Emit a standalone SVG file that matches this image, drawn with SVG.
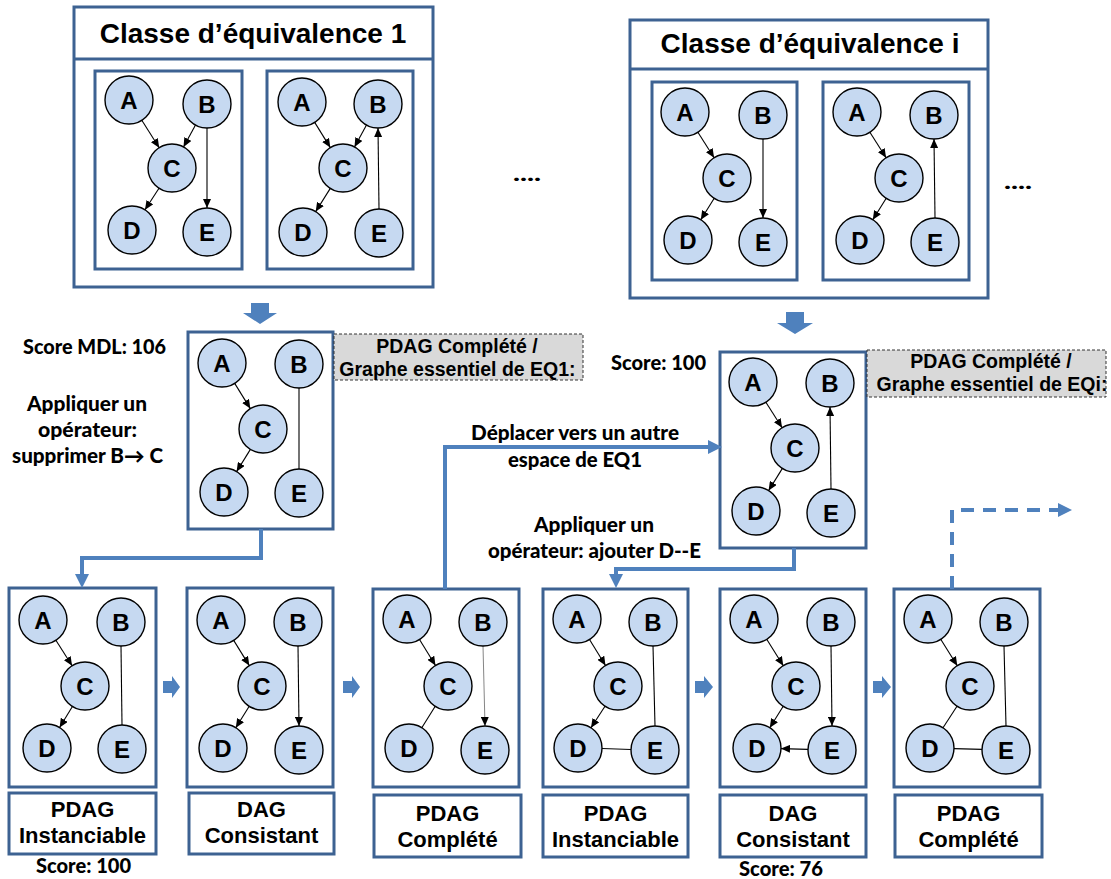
<svg xmlns="http://www.w3.org/2000/svg" width="1111" height="879" viewBox="0 0 1111 879">
<style>
.box{fill:#fff;stroke:#3D6292;stroke-width:3}
.gray{fill:#D9D9D9;stroke:#333;stroke-width:1;stroke-dasharray:3,2}
.n circle{fill:#C6D9F1;stroke:#000;stroke-width:1.4}
.n text{font-family:"Liberation Sans",Arial,sans-serif;font-weight:700;font-size:24px;text-anchor:middle;fill:#000}
.e{stroke:#000;stroke-width:1.1;fill:none}
.ea{stroke:#000;stroke-width:1.1;fill:none;marker-end:url(#ah)}
.eg{stroke:#777;stroke-width:0.9;fill:none;marker-end:url(#ah)}
.title{font-family:"Liberation Sans",Arial,sans-serif;font-weight:bold;font-size:28px;text-anchor:middle}
.lab{font-family:"Liberation Sans",Arial,sans-serif;font-weight:bold;font-size:22px;text-anchor:middle}
.gt{font-family:"Liberation Sans",Arial,sans-serif;font-weight:bold;font-size:19.5px;text-anchor:middle}
.cal{font-family:Lato,"Open Sans",sans-serif;font-weight:900;font-size:20px}
.conn{stroke:#4F81BD;stroke-width:4;fill:none;marker-end:url(#bh)}
.blk{fill:#4F81BD}
</style>
<defs>
<marker id="ah" markerUnits="userSpaceOnUse" markerWidth="10" markerHeight="8" refX="9" refY="4" orient="auto">
<path d="M0,0 L9,4 L0,8 z" fill="#000"/>
</marker>
<marker id="bh" markerUnits="userSpaceOnUse" markerWidth="15" markerHeight="14" refX="0" refY="7" orient="auto">
<path d="M0,0 L14,7 L0,14 z" fill="#4F81BD"/>
</marker>
</defs>

<g id="classe1">
<rect class="box" x="74" y="7" width="359" height="280"/>
<line x1="74" y1="59" x2="433" y2="59" stroke="#3D6292" stroke-width="3"/>
<text class="title" x="253" y="43">Classe d’équivalence 1</text>
<rect class="box" x="95" y="71" width="147" height="198"/>
<rect class="box" x="267" y="71" width="146" height="198"/>
</g>

<g id="classei">
<rect class="box" x="630" y="20" width="358" height="278"/>
<line x1="630" y1="69" x2="988" y2="69" stroke="#3D6292" stroke-width="3"/>
<text class="title" x="810" y="53">Classe d’équivalence i</text>
<rect class="box" x="652" y="82" width="145" height="198"/>
<rect class="box" x="823" y="82" width="146" height="198"/>
</g>

<g id="mid1-box"><rect class="box" x="188" y="332" width="145" height="197"/></g>
<g id="mid2-box"><rect class="box" x="720" y="352" width="146" height="196"/></g>

<g id="bottom-boxes">
<rect class="box" x="9" y="588" width="147" height="199"/>
<rect class="box" x="187" y="588" width="146" height="199"/>
<rect class="box" x="373" y="589" width="146" height="198"/>
<rect class="box" x="543" y="589" width="145" height="198"/>
<rect class="box" x="720" y="589" width="146" height="198"/>
<rect class="box" x="894" y="589" width="146" height="198"/>
</g>

<g id="labels">
<g id="lab1"><rect class="box" x="9" y="793" width="147" height="61"/><text class="lab" x="82.5" y="817">PDAG</text><text class="lab" x="82.5" y="843">Instanciable</text></g>
<g id="lab2"><rect class="box" x="189" y="793" width="145" height="61"/><text class="lab" x="261.5" y="817">DAG</text><text class="lab" x="261.5" y="843">Consistant</text></g>
<g id="lab3"><rect class="box" x="374" y="795" width="147" height="62"/><text class="lab" x="447.5" y="821">PDAG</text><text class="lab" x="447.5" y="847">Complété</text></g>
<g id="lab4"><rect class="box" x="543" y="795" width="145" height="62"/><text class="lab" x="615.5" y="821">PDAG</text><text class="lab" x="615.5" y="847">Instanciable</text></g>
<g id="lab5"><rect class="box" x="720" y="795" width="146" height="62"/><text class="lab" x="793" y="821">DAG</text><text class="lab" x="793" y="847">Consistant</text></g>
<g id="lab6"><rect class="box" x="895" y="795" width="147" height="62"/><text class="lab" x="968.5" y="821">PDAG</text><text class="lab" x="968.5" y="847">Complété</text></g>
</g>

<g id="gray-notes">
<g id="note-eq1"><rect class="gray" x="334" y="334" width="249" height="46"/><text class="gt" x="457" y="353">PDAG Complété /</text><text class="gt" x="457.5" y="376">Graphe essentiel de EQ1:</text></g>
<g id="note-eqi"><rect class="gray" x="867" y="350" width="239" height="47"/><text class="gt" x="991" y="368">PDAG Complété /</text><text class="gt" x="992" y="391">Graphe essentiel de EQi:</text></g>
</g>

<g id="texts">
<text class="cal" x="23" y="354" textLength="143" lengthAdjust="spacingAndGlyphs">Score MDL: 106</text>
<text class="cal" x="27" y="411" textLength="120" lengthAdjust="spacingAndGlyphs">Appliquer un</text>
<text class="cal" x="38" y="437" textLength="99" lengthAdjust="spacingAndGlyphs">opérateur:</text>
<text class="cal" x="12" y="463" textLength="151" lengthAdjust="spacingAndGlyphs">supprimer B→ C</text>
<text class="cal" x="611" y="370" textLength="95" lengthAdjust="spacingAndGlyphs">Score: 100</text>
<text class="cal" x="471" y="440" textLength="208" lengthAdjust="spacingAndGlyphs">Déplacer vers un autre</text>
<text class="cal" x="508" y="467" textLength="134" lengthAdjust="spacingAndGlyphs">espace de EQ1</text>
<text class="cal" x="534" y="532" textLength="120" lengthAdjust="spacingAndGlyphs">Appliquer un</text>
<text class="cal" x="488" y="558" textLength="213" lengthAdjust="spacingAndGlyphs">opérateur: ajouter D--E</text>
<text class="cal" x="36" y="873" textLength="95" lengthAdjust="spacingAndGlyphs">Score: 100</text>
<text class="cal" x="739" y="876" textLength="84" lengthAdjust="spacingAndGlyphs">Score: 76</text>
<text class="cal" x="513" y="181" textLength="28" lengthAdjust="spacingAndGlyphs" font-size="22">....</text>
<text class="cal" x="1004" y="189" textLength="28" lengthAdjust="spacingAndGlyphs" font-size="22">....</text>
</g>

<g id="connectors">
<path class="blk" d="M251,303 H269 V313 H277 L260,324 L243,313 H251 Z"/>
<path class="blk" d="M786,312 H804 V323 H813 L795,334 L777,323 H786 Z"/>
<path class="blk" d="M163,681 H172 V676 L180,687 L172,698 V693 H163 Z"/>
<path class="blk" d="M343,681 H352 V676 L360,687 L352,698 V693 H343 Z"/>
<path class="blk" d="M695,681 H704 V676 L713,687 L704,698 V693 H695 Z"/>
<path class="blk" d="M873,681 H882 V676 L891,687 L882,698 V693 H873 Z"/>
<path class="conn" d="M261,529 V558 H82 V574"/>
<path class="conn" d="M445,589 V447 H708"/>
<path class="conn" d="M794,548 V569 H616 V574"/>
<path class="conn" d="M952,589 V510 H1058" stroke-dasharray="13,9"/>
<g id="edges-l1">
<line class="ea" x1="141.8" y1="120.3" x2="159.2" y2="147.7"/>
<line class="ea" x1="195.5" y1="125.1" x2="183.5" y2="146.9"/>
<line class="ea" x1="159" y1="188.2" x2="145" y2="209.8"/>
<line class="ea" x1="207" y1="128" x2="207" y2="208"/>
</g>
<g id="edges-l2">
<line class="ea" x1="314.7" y1="122.4" x2="330.3" y2="147.6"/>
<line class="ea" x1="366.5" y1="125.1" x2="354.5" y2="146.9"/>
<line class="ea" x1="330.3" y1="188.4" x2="315.7" y2="211.6"/>
<line class="ea" x1="379" y1="209" x2="378" y2="128"/>
</g>
<g id="edges-i1">
<line class="ea" x1="697.9" y1="132.3" x2="714.1" y2="157.7"/>
<line class="ea" x1="714.2" y1="198.3" x2="700.8" y2="219.7"/>
<line class="ea" x1="763" y1="139" x2="763" y2="218"/>
</g>
<g id="edges-i2">
<line class="ea" x1="869.9" y1="132.3" x2="886.1" y2="157.7"/>
<line class="ea" x1="886.2" y1="198.3" x2="872.8" y2="219.7"/>
<line class="ea" x1="935" y1="218" x2="934" y2="139"/>
</g>
<g id="edges-m1">
<line class="ea" x1="234.7" y1="383.4" x2="250.3" y2="408.6"/>
<line class="ea" x1="250.4" y1="449.4" x2="236.6" y2="471.6"/>
<line class="e" x1="299" y1="388" x2="299" y2="469"/>
</g>
<g id="edges-m2">
<line class="ea" x1="765.9" y1="402.3" x2="782.1" y2="427.7"/>
<line class="ea" x1="782.4" y1="468.4" x2="768.6" y2="490.6"/>
<line class="ea" x1="831" y1="489" x2="830" y2="407"/>
</g>
<g id="edges-b1">
<line class="ea" x1="55.9" y1="640.3" x2="72.1" y2="665.7"/>
<line class="ea" x1="72.4" y1="706.5" x2="59.6" y2="727.5"/>
<line class="e" x1="121" y1="646" x2="122" y2="725"/>
</g>
<g id="edges-b2">
<line class="ea" x1="233.7" y1="640.4" x2="249.3" y2="665.6"/>
<line class="ea" x1="249.2" y1="706.3" x2="235.8" y2="727.7"/>
<line class="ea" x1="298" y1="646" x2="299" y2="726"/>
</g>
<g id="edges-b3">
<line class="ea" x1="419.5" y1="639.5" x2="435.5" y2="665.5"/>
<line class="e" x1="435.2" y1="706.3" x2="421.8" y2="727.7"/>
<line class="eg" x1="483" y1="646" x2="485" y2="726"/>
</g>
<g id="edges-b4">
<line class="ea" x1="589.5" y1="639.5" x2="605.5" y2="665.5"/>
<line class="ea" x1="605" y1="706.2" x2="591" y2="727.8"/>
<line class="e" x1="653" y1="646" x2="655" y2="726"/>
<line class="e" x1="602" y1="748.5" x2="631" y2="749.5"/>
</g>
<g id="edges-b5">
<line class="ea" x1="766.7" y1="639.3" x2="783.3" y2="665.7"/>
<line class="ea" x1="783.2" y1="706.3" x2="769.8" y2="727.7"/>
<line class="ea" x1="831" y1="646" x2="832" y2="726"/>
<line class="ea" x1="808" y1="749.4" x2="781" y2="748.6"/>
</g>
<g id="edges-b6">
<line class="ea" x1="940.7" y1="639.3" x2="957.3" y2="665.7"/>
<line class="e" x1="957" y1="706.2" x2="943" y2="727.8"/>
<line class="e" x1="1004" y1="646" x2="1006" y2="726"/>
<line class="e" x1="954" y1="748.6" x2="982" y2="749.4"/>
</g>
</g>

<g id="nodes">
<g id="l1-A" class="n"><circle cx="129" cy="100" r="24"/><text x="129" y="108.5">A</text></g>
<g id="l1-B" class="n"><circle cx="207" cy="104" r="24"/><text x="207" y="112.5">B</text></g>
<g id="l1-C" class="n"><circle cx="172" cy="168" r="24"/><text x="172" y="176.5">C</text></g>
<g id="l1-D" class="n"><circle cx="132" cy="230" r="24"/><text x="132" y="238.5">D</text></g>
<g id="l1-E" class="n"><circle cx="207" cy="232" r="24"/><text x="207" y="240.5">E</text></g>

<g id="l2-A" class="n"><circle cx="302" cy="102" r="24"/><text x="302" y="110.5">A</text></g>
<g id="l2-B" class="n"><circle cx="378" cy="104" r="24"/><text x="378" y="112.5">B</text></g>
<g id="l2-C" class="n"><circle cx="343" cy="168" r="24"/><text x="343" y="176.5">C</text></g>
<g id="l2-D" class="n"><circle cx="303" cy="232" r="24"/><text x="303" y="240.5">D</text></g>
<g id="l2-E" class="n"><circle cx="379" cy="233" r="24"/><text x="379" y="241.5">E</text></g>

<g id="i1-A" class="n"><circle cx="685" cy="112" r="24"/><text x="685" y="120.5">A</text></g>
<g id="i1-B" class="n"><circle cx="763" cy="115" r="24"/><text x="763" y="123.5">B</text></g>
<g id="i1-C" class="n"><circle cx="727" cy="178" r="24"/><text x="727" y="186.5">C</text></g>
<g id="i1-D" class="n"><circle cx="688" cy="240" r="24"/><text x="688" y="248.5">D</text></g>
<g id="i1-E" class="n"><circle cx="763" cy="242" r="24"/><text x="763" y="250.5">E</text></g>

<g id="i2-A" class="n"><circle cx="857" cy="112" r="24"/><text x="857" y="120.5">A</text></g>
<g id="i2-B" class="n"><circle cx="934" cy="115" r="24"/><text x="934" y="123.5">B</text></g>
<g id="i2-C" class="n"><circle cx="899" cy="178" r="24"/><text x="899" y="186.5">C</text></g>
<g id="i2-D" class="n"><circle cx="860" cy="240" r="24"/><text x="860" y="248.5">D</text></g>
<g id="i2-E" class="n"><circle cx="935" cy="242" r="24"/><text x="935" y="250.5">E</text></g>

<g id="m1-A" class="n"><circle cx="222" cy="363" r="24"/><text x="222" y="371.5">A</text></g>
<g id="m1-B" class="n"><circle cx="299" cy="364" r="24"/><text x="299" y="372.5">B</text></g>
<g id="m1-C" class="n"><circle cx="263" cy="429" r="24"/><text x="263" y="437.5">C</text></g>
<g id="m1-D" class="n"><circle cx="224" cy="492" r="24"/><text x="224" y="500.5">D</text></g>
<g id="m1-E" class="n"><circle cx="299" cy="493" r="24"/><text x="299" y="501.5">E</text></g>

<g id="m2-A" class="n"><circle cx="753" cy="382" r="24"/><text x="753" y="390.5">A</text></g>
<g id="m2-B" class="n"><circle cx="830" cy="383" r="24"/><text x="830" y="391.5">B</text></g>
<g id="m2-C" class="n"><circle cx="795" cy="448" r="24"/><text x="795" y="456.5">C</text></g>
<g id="m2-D" class="n"><circle cx="756" cy="511" r="24"/><text x="756" y="519.5">D</text></g>
<g id="m2-E" class="n"><circle cx="831" cy="513" r="24"/><text x="831" y="521.5">E</text></g>

<g id="b1-A" class="n"><circle cx="43" cy="620" r="24"/><text x="43" y="628.5">A</text></g>
<g id="b1-B" class="n"><circle cx="121" cy="622" r="24"/><text x="121" y="630.5">B</text></g>
<g id="b1-C" class="n"><circle cx="85" cy="686" r="24"/><text x="85" y="694.5">C</text></g>
<g id="b1-D" class="n"><circle cx="47" cy="748" r="24"/><text x="47" y="756.5">D</text></g>
<g id="b1-E" class="n"><circle cx="122" cy="749" r="24"/><text x="122" y="757.5">E</text></g>

<g id="b2-A" class="n"><circle cx="221" cy="620" r="24"/><text x="221" y="628.5">A</text></g>
<g id="b2-B" class="n"><circle cx="298" cy="622" r="24"/><text x="298" y="630.5">B</text></g>
<g id="b2-C" class="n"><circle cx="262" cy="686" r="24"/><text x="262" y="694.5">C</text></g>
<g id="b2-D" class="n"><circle cx="223" cy="748" r="24"/><text x="223" y="756.5">D</text></g>
<g id="b2-E" class="n"><circle cx="299" cy="750" r="24"/><text x="299" y="758.5">E</text></g>

<g id="b3-A" class="n"><circle cx="407" cy="619" r="24"/><text x="407" y="627.5">A</text></g>
<g id="b3-B" class="n"><circle cx="483" cy="622" r="24"/><text x="483" y="630.5">B</text></g>
<g id="b3-C" class="n"><circle cx="448" cy="686" r="24"/><text x="448" y="694.5">C</text></g>
<g id="b3-D" class="n"><circle cx="409" cy="748" r="24"/><text x="409" y="756.5">D</text></g>
<g id="b3-E" class="n"><circle cx="485" cy="750" r="24"/><text x="485" y="758.5">E</text></g>

<g id="b4-A" class="n"><circle cx="577" cy="619" r="24"/><text x="577" y="627.5">A</text></g>
<g id="b4-B" class="n"><circle cx="653" cy="622" r="24"/><text x="653" y="630.5">B</text></g>
<g id="b4-C" class="n"><circle cx="618" cy="686" r="24"/><text x="618" y="694.5">C</text></g>
<g id="b4-D" class="n"><circle cx="578" cy="748" r="24"/><text x="578" y="756.5">D</text></g>
<g id="b4-E" class="n"><circle cx="655" cy="750" r="24"/><text x="655" y="758.5">E</text></g>

<g id="b5-A" class="n"><circle cx="754" cy="619" r="24"/><text x="754" y="627.5">A</text></g>
<g id="b5-B" class="n"><circle cx="831" cy="622" r="24"/><text x="831" y="630.5">B</text></g>
<g id="b5-C" class="n"><circle cx="796" cy="686" r="24"/><text x="796" y="694.5">C</text></g>
<g id="b5-D" class="n"><circle cx="757" cy="748" r="24"/><text x="757" y="756.5">D</text></g>
<g id="b5-E" class="n"><circle cx="832" cy="750" r="24"/><text x="832" y="758.5">E</text></g>

<g id="b6-A" class="n"><circle cx="928" cy="619" r="24"/><text x="928" y="627.5">A</text></g>
<g id="b6-B" class="n"><circle cx="1004" cy="622" r="24"/><text x="1004" y="630.5">B</text></g>
<g id="b6-C" class="n"><circle cx="970" cy="686" r="24"/><text x="970" y="694.5">C</text></g>
<g id="b6-D" class="n"><circle cx="930" cy="748" r="24"/><text x="930" y="756.5">D</text></g>
<g id="b6-E" class="n"><circle cx="1006" cy="750" r="24"/><text x="1006" y="758.5">E</text></g>
</g>
</svg>
